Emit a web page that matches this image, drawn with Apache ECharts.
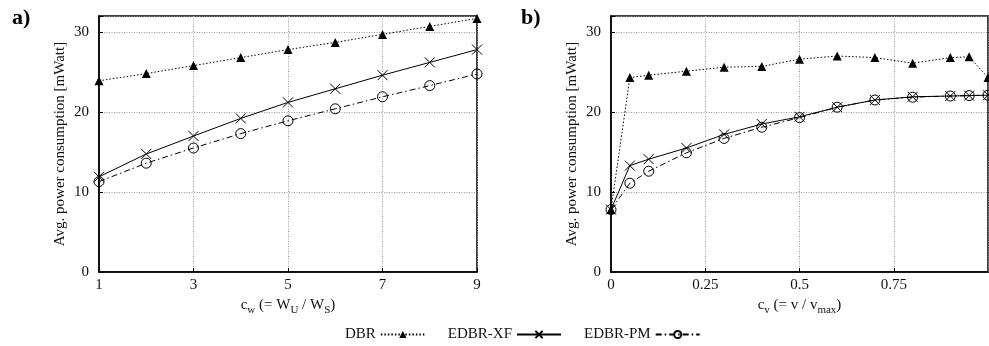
<!DOCTYPE html>
<html>
<head>
<meta charset="utf-8">
<script src="https://cdn.jsdelivr.net/npm/echarts@6/dist/echarts.min.js"></script>
<style>
  html, body { margin: 0; padding: 0; background: #fff; }
  #chart { width: 989px; height: 346px; }
</style>
</head>
<body>
<div id="chart"></div>
<script>
// panel a) — against c_w
const cwValues = [1, 2, 3, 4, 5, 6, 7, 8, 9];
const dbrByCw = [23.9, 24.8, 25.8, 26.8, 27.8, 28.7, 29.7, 30.7, 31.7];
const xfByCw = [11.9, 14.75, 17.0, 19.2, 21.2, 22.9, 24.6, 26.2, 27.8];
const pmByCw = [11.3, 13.6, 15.5, 17.3, 18.9, 20.4, 21.9, 23.3, 24.75];

// panel b) — against c_v
const cvValues = [0, 0.05, 0.1, 0.2, 0.3, 0.4, 0.5, 0.6, 0.7, 0.8, 0.9, 0.95, 1.0];
const dbrByCv = [7.8, 24.3, 24.6, 25.1, 25.6, 25.7, 26.6, 27.0, 26.8, 26.1, 26.8, 26.9, 24.3];
const xfByCv = [7.8, 13.3, 14.1, 15.5, 17.2, 18.5, 19.4, 20.6, 21.5, 21.9, 22.0, 22.05, 22.1];
const pmByCv = [7.8, 11.1, 12.6, 14.9, 16.7, 18.1, 19.3, 20.6, 21.5, 21.85, 22.0, 22.05, 22.1];

const seriesNames = ['DBR', 'EDBR-XF', 'EDBR-PM'];
const yTicks = [0, 10, 20, 30];

const FONT = '"Liberation Serif", "DejaVu Serif", serif';
const zip = (xs, ys) => xs.map((x, i) => [x, ys[i]]);

const styles = {
  'DBR': {
    symbol: 'triangle', symbolSize: 9,
    lineStyle: { color: '#000', width: 1, type: [1.5, 2] },
    itemStyle: { color: '#000' },
  },
  'EDBR-XF': {
    symbol: 'path://M0,0L10,10M0,10L10,0', symbolSize: 10,
    lineStyle: { color: '#000', width: 1, type: 'solid' },
    itemStyle: { color: '#000', borderColor: '#000', borderWidth: 1 },
  },
  'EDBR-PM': {
    symbol: 'circle', symbolSize: 10,
    lineStyle: { color: '#000', width: 1, type: [6, 3, 1.5, 3] },
    itemStyle: { color: 'transparent', borderColor: '#000', borderWidth: 1 },
  },
};

function makeSeries(name, idx, data) {
  return Object.assign({
    name,
    type: 'line',
    xAxisIndex: idx,
    yAxisIndex: idx,
    data,
    showSymbol: true,
    showAllSymbol: true,
    clip: false,
    animation: false,
    z: name === 'EDBR-XF' ? 4 : 3,
  }, styles[name]);
}

const gridLine = { show: true, lineStyle: { color: '#999', width: 1, type: [1, 1.5] } };

function xAxis(idx, min, max, interval, name, hideMax) {
  return {
    type: 'value', gridIndex: idx, min, max, interval,
    name, nameLocation: 'middle', nameGap: 24,
    nameTextStyle: {
      fontFamily: FONT, fontSize: 15, color: '#111',
      rich: {
        sub: { fontFamily: FONT, fontSize: 11, color: '#111', verticalAlign: 'bottom', padding: [0, 0, -3, 0] },
      },
    },
    axisLine: { show: true, lineStyle: { color: '#000', width: 1.5 } },
    axisTick: { show: true, inside: true, length: 4, lineStyle: { color: '#000' } },
    axisLabel: { fontFamily: FONT, fontSize: 15, color: '#111', margin: 6, showMaxLabel: !hideMax },
    splitLine: gridLine,
  };
}

function yAxis(idx) {
  return {
    type: 'value', gridIndex: idx, min: 0, max: 32, interval: 10,
    name: 'Avg. power consumption [mWatt]', nameLocation: 'middle', nameGap: 31,
    nameTextStyle: { fontFamily: FONT, fontSize: 15, color: '#111' },
    axisLine: { show: true, lineStyle: { color: '#000', width: 1.5 } },
    axisTick: { show: true, inside: true, length: 4, lineStyle: { color: '#000' } },
    axisLabel: {
      fontFamily: FONT, fontSize: 15, color: '#111', margin: 10,
      formatter: (v) => (yTicks.includes(v) ? String(v) : ''),
    },
    splitLine: gridLine,
  };
}

const chart = echarts.init(document.getElementById('chart'), null, { renderer: 'canvas' });
chart.setOption({
  animation: false,
  backgroundColor: '#fff',
  title: [
    { text: 'a)', left: 7, top: 2, textStyle: { fontFamily: FONT, fontSize: 22, fontWeight: 'bold', color: '#000' } },
    { text: 'b)', left: 516, top: 2, textStyle: { fontFamily: FONT, fontSize: 22, fontWeight: 'bold', color: '#000' } },
  ],
  grid: [
    { left: 99, top: 16, width: 378, height: 256, show: true, borderColor: '#000', borderWidth: 1.5, backgroundColor: 'transparent' },
    { left: 611, top: 16, width: 377, height: 256, show: true, borderColor: '#000', borderWidth: 1.5, backgroundColor: 'transparent' },
  ],
  legend: {
    data: seriesNames,
    left: 340,
    top: 322,
    align: 'right',
    itemWidth: 44,
    itemHeight: 9,
    itemGap: 22,
    textStyle: { fontFamily: FONT, fontSize: 15, color: '#111' },
  },
  xAxis: [
    xAxis(0, 1, 9, 2, 'c{sub|w} (= W{sub|U} / W{sub|S})', false),
    xAxis(1, 0, 1, 0.25, 'c{sub|v} (= v / v{sub|max})', true),
  ],
  yAxis: [yAxis(0), yAxis(1)],
  series: [
    makeSeries('DBR', 0, zip(cwValues, dbrByCw)),
    makeSeries('EDBR-XF', 0, zip(cwValues, xfByCw)),
    makeSeries('EDBR-PM', 0, zip(cwValues, pmByCw)),
    makeSeries('DBR', 1, zip(cvValues, dbrByCv)),
    makeSeries('EDBR-XF', 1, zip(cvValues, xfByCv)),
    makeSeries('EDBR-PM', 1, zip(cvValues, pmByCv)),
  ],
});
</script>
</body>
</html>
